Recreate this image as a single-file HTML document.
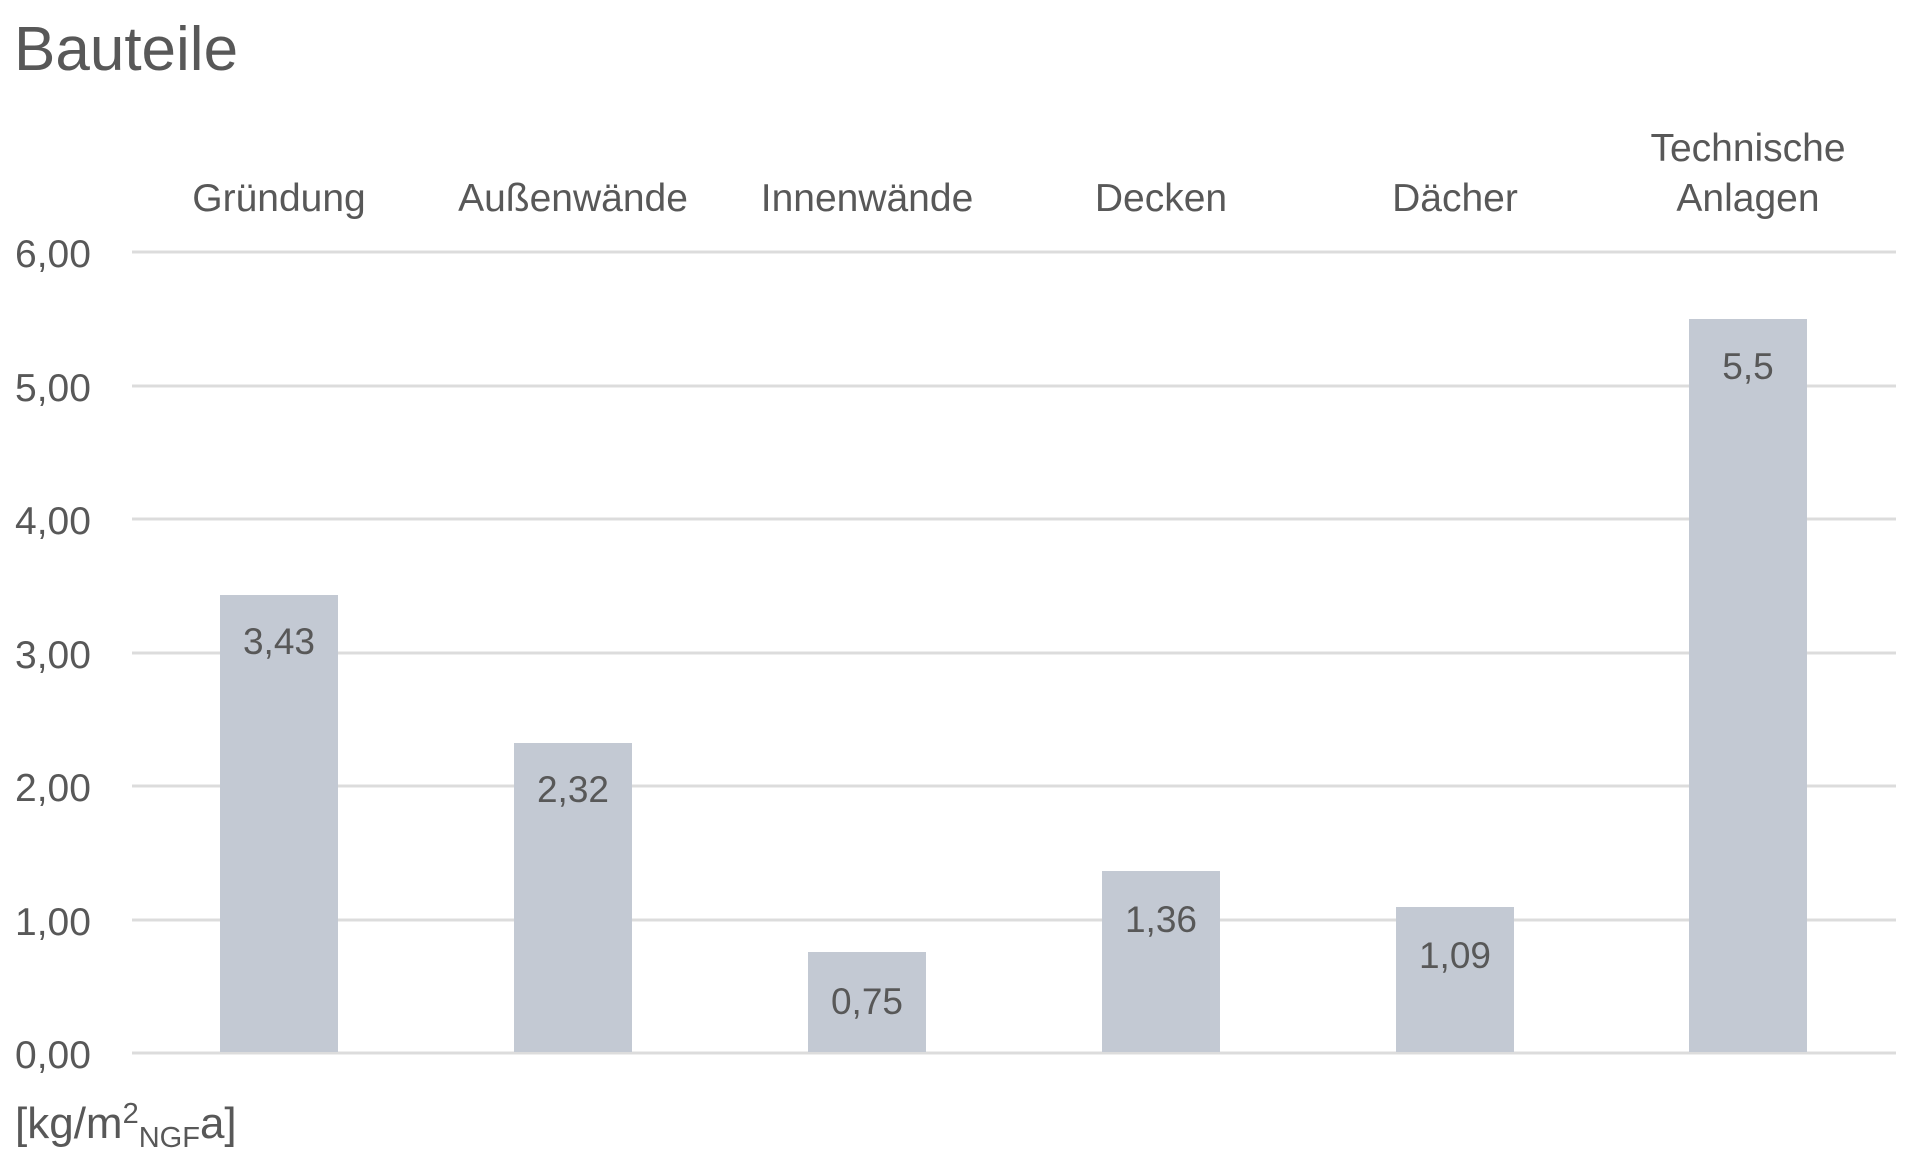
<!DOCTYPE html>
<html><head><meta charset="utf-8"><style>
html,body{margin:0;padding:0;background:#fff;}
svg{display:block;}
text{font-family:"Liberation Sans",sans-serif;fill:#585858;}
</style></head><body>
<svg width="1920" height="1159" viewBox="0 0 1920 1159" xmlns="http://www.w3.org/2000/svg">
<text x="14" y="70" font-size="62">Bauteile</text>
<g stroke="#dcdcdc" stroke-width="3">
<line x1="132" y1="252" x2="1896" y2="252"/>
<line x1="132" y1="386" x2="1896" y2="386"/>
<line x1="132" y1="519" x2="1896" y2="519"/>
<line x1="132" y1="653" x2="1896" y2="653"/>
<line x1="132" y1="786" x2="1896" y2="786"/>
<line x1="132" y1="920" x2="1896" y2="920"/>
<line x1="132" y1="1053" x2="1896" y2="1053"/>
</g>
<g font-size="39">
<text x="15" y="267">6,00</text>
<text x="15" y="401">5,00</text>
<text x="15" y="534">4,00</text>
<text x="15" y="668">3,00</text>
<text x="15" y="801">2,00</text>
<text x="15" y="935">1,00</text>
<text x="15" y="1068">0,00</text>
</g>
<g fill="#c3c9d3">
<rect x="220" y="595" width="118" height="457"/>
<rect x="514" y="743" width="118" height="309"/>
<rect x="808" y="952" width="118" height="100"/>
<rect x="1102" y="871" width="118" height="181"/>
<rect x="1396" y="907" width="118" height="145"/>
<rect x="1689" y="319" width="118" height="733"/>
</g>
<g font-size="37" text-anchor="middle">
<text x="279" y="654">3,43</text>
<text x="573" y="802">2,32</text>
<text x="867" y="1014">0,75</text>
<text x="1161" y="932">1,36</text>
<text x="1455" y="968">1,09</text>
<text x="1748" y="379">5,5</text>
</g>
<g font-size="39" text-anchor="middle">
<text x="279" y="211">Gründung</text>
<text x="573" y="211">Außenwände</text>
<text x="867" y="211">Innenwände</text>
<text x="1161" y="211">Decken</text>
<text x="1455" y="211">Dächer</text>
<text x="1748" y="161">Technische</text>
<text x="1748" y="211">Anlagen</text>
</g>
<text x="15" y="1138" font-size="44">[kg/m<tspan font-size="29" dy="-15">2</tspan><tspan font-size="29" dy="24">NGF</tspan><tspan dy="-9">a]</tspan></text>
</svg>
</body></html>
